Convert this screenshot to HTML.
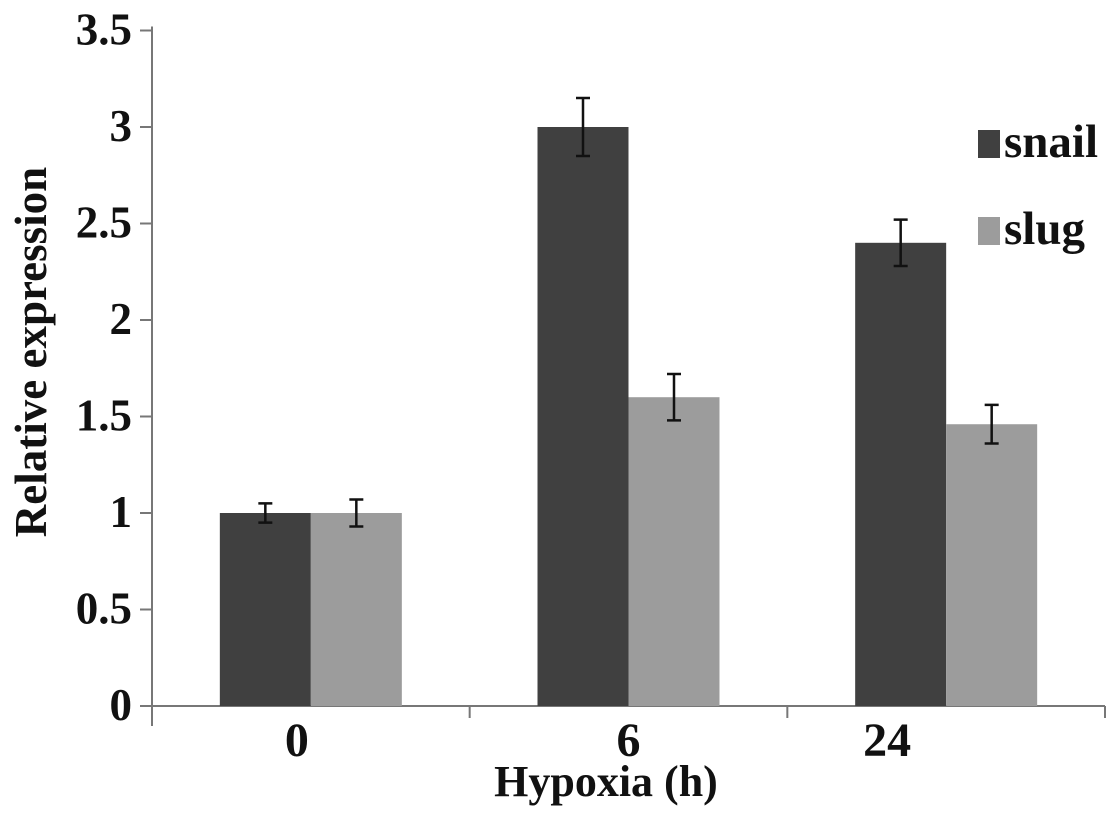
<!DOCTYPE html>
<html><head><meta charset="utf-8"><style>
body{margin:0;background:#fff}
svg text{font-family:"Liberation Serif",serif;font-weight:bold;fill:#111}
</style></head><body>
<svg id="chart" width="1119" height="813" viewBox="0 0 1119 813" xmlns="http://www.w3.org/2000/svg">
<g id="axes"></g><g id="bars"></g><g id="legend"></g>
</svg>
<script>
const categories = ["0","6","24"];
const snailValues = [1.0, 3.0, 2.4];
const slugValues = [1.0, 1.6, 1.46];
const snailErrors = [0.05, 0.15, 0.12];
const slugErrors = [0.07, 0.12, 0.10];
const yTicks = [0,0.5,1,1.5,2,2.5,3,3.5];
const yTickLabels = ["0","0.5","1","1.5","2","2.5","3","3.5"];
const seriesNames = ["snail","slug"];

const NS="http://www.w3.org/2000/svg";
const x0=152,x1=1105,y0=706,pxPerUnit=193;
const y=v=>y0-v*pxPerUnit;
const catW=(x1-x0)/categories.length;
const xc=i=>x0+catW*(i+0.5);
const labelShift=[-14,0,-59];
const barW=91;
function mk(tag,attrs,parent){const e=document.createElementNS(NS,tag);for(const k in attrs)e.setAttribute(k,attrs[k]);parent.appendChild(e);return e;}
const axes=document.getElementById('axes'),bars=document.getElementById('bars'),legend=document.getElementById('legend');

let a=mk('line',{x1:x0,y1:y(3.5)-4,x2:x0,y2:y0+20,stroke:'#777','stroke-width':2},axes);


a=mk('line',{x1:x0-12,y1:y0,x2:x1,y2:y0,stroke:'#777','stroke-width':2},axes);


yTicks.forEach((v,i)=>{
  const t=mk('line',{x1:x0-12,y1:y(v),x2:x0,y2:y(v),stroke:'#777','stroke-width':2},axes);
  
  
  const l=mk('text',{x:x0-20,y:y(v)+14,'text-anchor':'end','font-size':45},axes);
  l.textContent=yTickLabels[i];
  
  
});
for(let i=0;i<=categories.length;i++){
  const t=mk('line',{x1:x0+catW*i,y1:y0,x2:x0+catW*i,y2:y0+12,stroke:'#777','stroke-width':2},axes);
  
  
}
categories.forEach((c,i)=>{
  const l=mk('text',{x:xc(i)+labelShift[i],y:y0+50,'text-anchor':'middle','font-size':48},axes);
  l.textContent=c;
  
  
});
let t=mk('text',{x:606,y:796,'text-anchor':'middle','font-size':44},axes);
t.textContent='Hypoxia (h)';


t=mk('text',{x:0,y:0,'text-anchor':'middle','font-size':45,transform:'translate(46,352) rotate(-90)'},axes);
t.textContent='Relative expression';



const colors=['#404040','#9c9c9c'];
[snailValues,slugValues].forEach((vals,s)=>{
  const errs=s===0?snailErrors:slugErrors;
  vals.forEach((v,i)=>{
    const bx=xc(i)+(s===0?-barW:0);
    const r=mk('rect',{x:bx,y:y(v),width:barW,height:y0-y(v),fill:colors[s]},bars);
    
    
    const cx=bx+barW/2,e=errs[i];
    const g=mk('path',{d:`M${cx-7},${y(v+e)}H${cx+7}M${cx},${y(v+e)}V${y(v-e)}M${cx-7},${y(v-e)}H${cx+7}`,stroke:'#111','stroke-width':2.5,fill:'none'},bars);
    
    
  });
});
seriesNames.forEach((n,s)=>{
  const yy=s===0?130:217;
  const r=mk('rect',{x:978,y:yy,width:22,height:28,fill:colors[s]},legend);
  
  
  const l=mk('text',{x:1004,y:yy+27,'font-size':47},legend);
  l.textContent=n;
  
  
});
</script>
</body></html>
